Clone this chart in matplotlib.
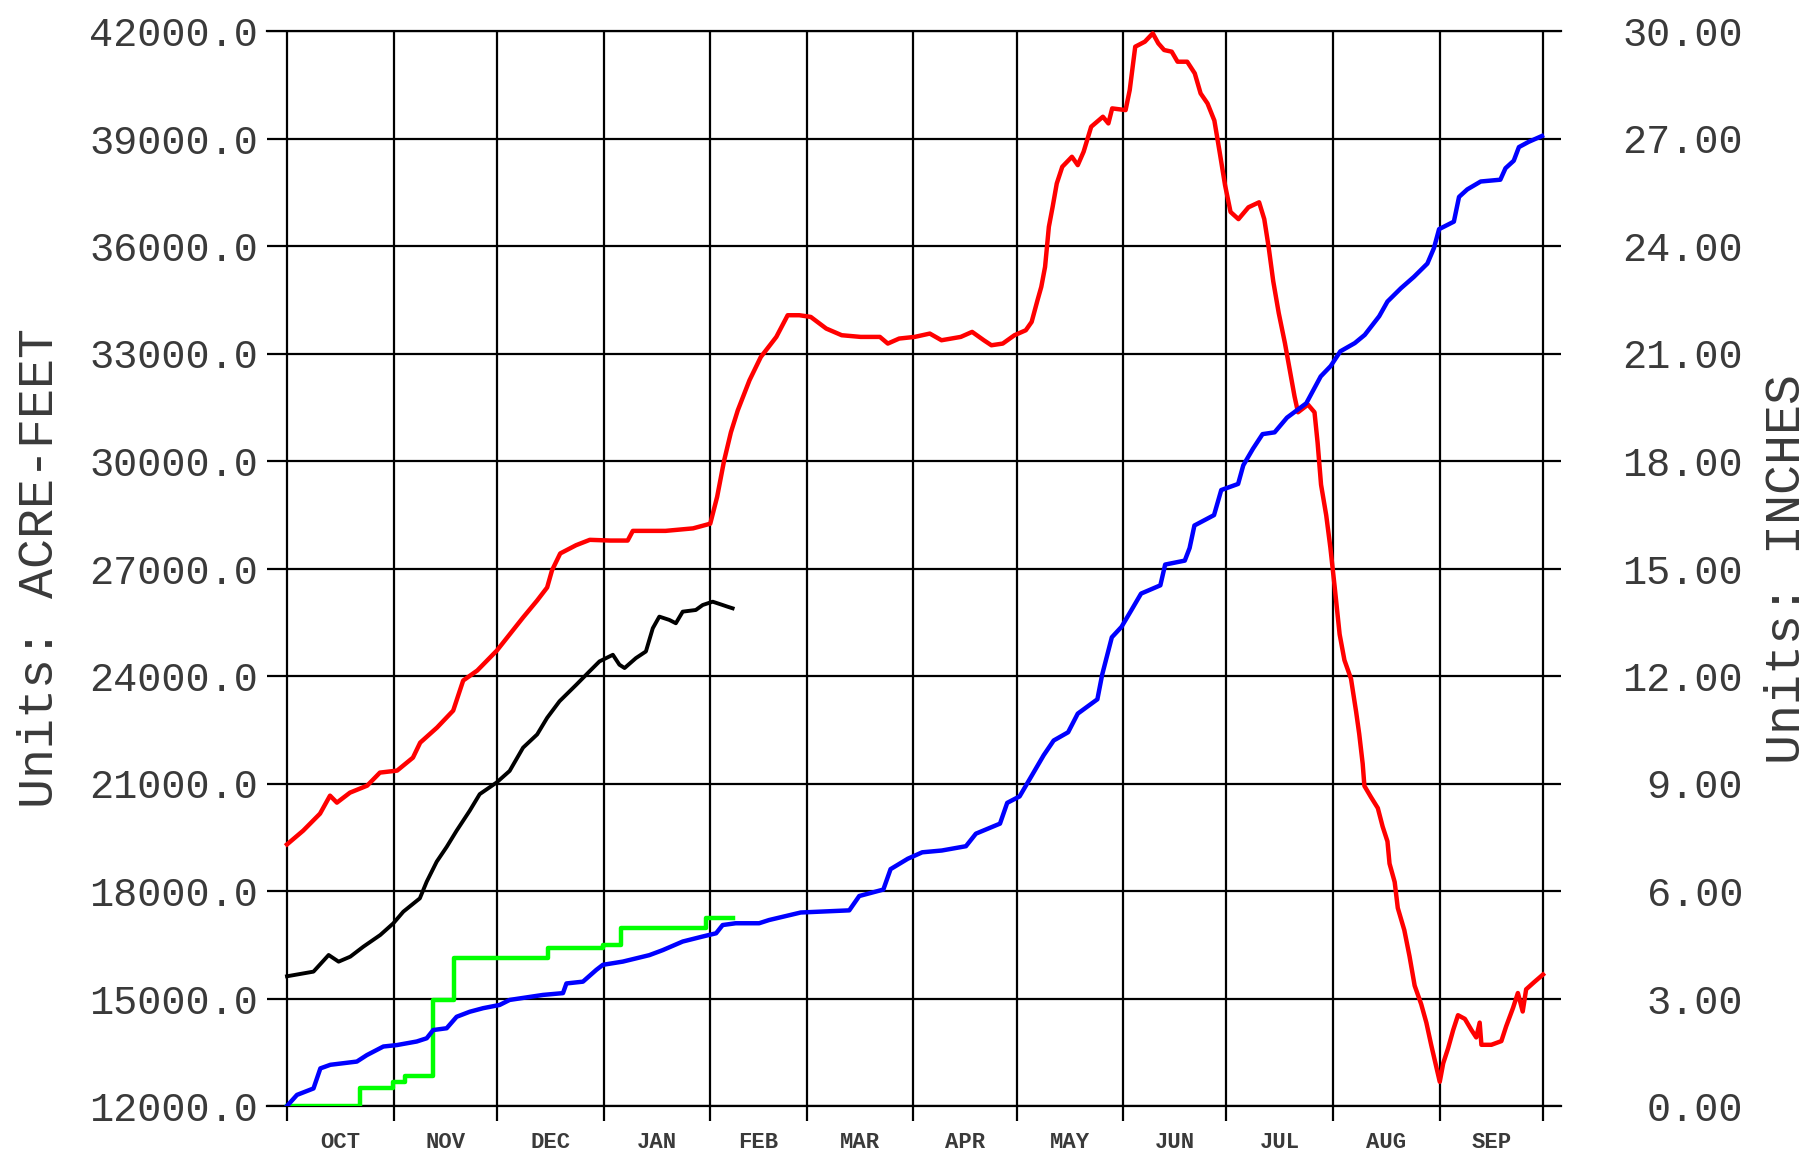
import matplotlib
matplotlib.use("Agg")
import matplotlib.pyplot as plt
import numpy as np

# ---- data (day of water year, starting Oct 1) ----
month_edges = [0, 31, 61, 92, 123, 151, 182, 212, 243, 273, 304, 335, 365]
month_labels = ["OCT", "NOV", "DEC", "JAN", "FEB", "MAR", "APR", "MAY", "JUN", "JUL", "AUG", "SEP"]

left_ticks = [12000, 15000, 18000, 21000, 24000, 27000, 30000, 33000, 36000, 39000, 42000]
right_ticks = [0, 3, 6, 9, 12, 15, 18, 21, 24, 27, 30]

# storage, acre-feet (red: last year, black: current)
red_days = [0, 4.7, 9.6, 12.5, 14.5, 18.3, 23.3, 27, 32, 36.6, 38.7, 43.6, 48.3, 51.2, 55.3, 61,
            64.9, 68.6, 72.7, 75.6, 77, 79.4, 84, 88, 94, 99, 100.5, 110, 118, 123, 125, 127, 129,
            131, 134.4, 137.7, 142.2, 145.5, 148.9, 152.2, 156.7, 161.2, 166.7, 172.3, 174.6,
            177.9, 182.4, 186.8, 190.2, 195.8, 199.1, 202.5, 204.7, 208, 211.4, 214.7, 216.4,
            218.1, 219.2, 220.3, 221.4, 222.5, 223.7, 225.3, 228.1, 229.8, 231.5, 233.7, 237.1,
            238.7, 239.8, 243.7, 244.9, 246.5, 249.3, 251.6, 253.2, 254.9, 257.1, 258.8, 261.6,
            263.8, 265.5, 267.5, 269.5, 271, 272.6, 274.2, 276.5, 279.4, 282.5, 284, 285.3,
            286.6, 288.2, 290, 291.5, 292.8, 293.8, 296.7, 298.6, 299.5, 300.5, 302, 303.2,
            304.4, 305.9, 307.3, 309.2, 310.7, 311.6, 312.6, 313.1, 315, 317, 318.4, 319.8,
            320.4, 321.9, 322.8, 324.7, 326.2, 327.7, 329.6, 331.1, 332.5, 334, 335, 336, 337.4,
            338.9, 340.3, 342.3, 344.2, 345.6, 346.6, 347.1, 350, 352.9, 354.3, 356.3, 357.7,
            359.1, 360.1, 362.5, 365]
red_af = [19300, 19684, 20159, 20661, 20466, 20745, 20940, 21304, 21360, 21722, 22140, 22561,
          23035, 23874, 24153, 24712, 25187, 25633, 26108, 26471, 26946, 27420, 27650, 27800,
          27780, 27780, 28050, 28050, 28120, 28250, 29000, 30000, 30800, 31414, 32253, 32904,
          33463, 34068, 34068, 34021, 33696, 33510, 33463, 33463, 33277, 33417, 33463, 33556,
          33370, 33463, 33603, 33370, 33230, 33277, 33510, 33649, 33882, 34487, 34860, 35418,
          36535, 37094, 37745, 38211, 38490, 38257, 38630, 39328, 39607, 39421, 39840, 39793,
          40352, 41562, 41702, 41935, 41656, 41469, 41423, 41143, 41143, 40818, 40259, 39979,
          39500, 38640, 37700, 36950, 36750, 37080, 37220, 36750, 35950, 35020, 34130, 33290,
          32500, 31800, 31360, 31573, 31360, 30509, 29338, 28487, 27590, 26540, 25163, 24441,
          23925, 22996, 22377, 21551, 20932, 20622, 20313, 19797, 19384, 18765, 18249, 17526,
          16907, 16184, 15359, 14843, 14327, 13708, 13089, 12676, 13192, 13605, 14121, 14534,
          14431, 14121, 13914, 14327, 13708, 13708, 13811, 14224, 14740, 15153, 14637, 15256,
          15462, 15669]

black_days = [0, 7.7, 12.1, 15, 18.4, 22.2, 27.1, 30.9, 33.8, 38.6, 40.6, 43.5, 46.4, 49.3,
              53.1, 56, 60.9, 64.7, 68.6, 72.7, 75.6, 79.2, 84.1, 87.9, 90.8, 94.7, 96.6, 98.1,
              101.4, 104.3, 106.3, 108.2, 111.1, 113, 115, 118.8, 120.8, 123.7, 126.6, 128, 129.5]
black_af = [15620, 15750, 16214, 16028, 16168, 16447, 16772, 17098, 17423, 17795, 18260, 18818,
            19230, 19685, 20240, 20703, 21027, 21351, 22000, 22370, 22833, 23296, 23759, 24129,
            24407, 24592, 24315, 24222, 24500, 24685, 25333, 25657, 25565, 25472, 25796, 25842,
            25981, 26074, 25981, 25935, 25889]

# cumulative precipitation, inches (blue: last year, green: current)
blue_days = [0, 2.9, 7.7, 9.7, 12.6, 20.3, 23.2, 28, 31.9, 37.7, 40.6, 42.5, 46.4, 49.3, 53.1,
             57, 61.8, 64.7, 74.4, 80.2, 81.2, 86, 89.9, 91.8, 97.6, 105.3, 109.2, 115, 120.8,
             124.7, 126.6, 130.4, 137.2, 140.1, 149.3, 163.4, 166.3, 173.3, 175.4, 180.4, 184.6,
             190.3, 197.3, 200.2, 207.2, 209.3, 212.9, 215.7, 219.9, 222.8, 227, 229.8, 235.5,
             236.9, 239.7, 242.5, 245.4, 248.2, 253.8, 255.2, 260.9, 262.3, 263.7, 269.4, 271.5,
             276.4, 277.9, 280.7, 283.5, 287, 290.6, 296.2, 300.4, 303.3, 306.1, 310.3, 313.2,
             317.4, 319.8, 323.7, 327.5, 331.4, 333.3, 334.8, 339.1, 340.6, 343, 346.9, 352.6,
             354.1, 356.5, 358, 360.9, 364.7]
blue_in = [0.0, 0.31, 0.49, 1.05, 1.15, 1.24, 1.42, 1.66, 1.70, 1.80, 1.89, 2.12, 2.17, 2.49,
           2.63, 2.73, 2.82, 2.96, 3.10, 3.15, 3.42, 3.47, 3.80, 3.94, 4.03, 4.21, 4.35, 4.59,
           4.73, 4.82, 5.05, 5.10, 5.10, 5.19, 5.40, 5.46, 5.86, 6.04, 6.61, 6.90, 7.08, 7.13,
           7.25, 7.60, 7.88, 8.46, 8.64, 9.10, 9.79, 10.20, 10.43, 10.95, 11.35, 12.04, 13.08,
           13.37, 13.84, 14.30, 14.53, 15.11, 15.22, 15.57, 16.20, 16.49, 17.19, 17.36, 17.88,
           18.34, 18.75, 18.80, 19.21, 19.61, 20.36, 20.65, 21.06, 21.29, 21.52, 22.04, 22.45,
           22.82, 23.14, 23.51, 23.94, 24.47, 24.68, 25.37, 25.58, 25.80, 25.85, 26.17, 26.38,
           26.76, 26.91, 27.07]

green_days = [0, 21.3, 30.9, 34.3, 42.5, 48.5, 75.8, 91.8, 97.1, 121.7, 129.5]
green_in = [0.0, 0.49, 0.68, 0.84, 2.95, 4.12, 4.42, 4.49, 4.96, 5.24, 5.24]

# ---- figure ----
W, H = 1817, 1160
fig = plt.figure(figsize=(W / 100, H / 100), dpi=100)
x_left, x_right, y_top, y_bot = 267, 1561, 31, 1106
ax = fig.add_axes([x_left / W, (H - y_bot) / H, (x_right - x_left) / W, (y_bot - y_top) / H])

px_per_day = (1543 - 287) / 365.0
ax.set_xlim(-(287 - x_left) / px_per_day, 365 + (x_right - 1543) / px_per_day)
ax.set_ylim(12000, 42000)

FONT = "Liberation Mono"
GRID_LW = 1.6
tick_col = "#3a3a3a"

# spines / grid
for s in ["left", "right"]:
    ax.spines[s].set_visible(False)
for s in ["top", "bottom"]:
    ax.spines[s].set_linewidth(GRID_LW)
    ax.spines[s].set_color("black")
ax.set_yticks(left_ticks)
ax.set_yticklabels([f"{v:.1f}" for v in left_ticks], fontsize=29, family=FONT, color=tick_col)
ax.yaxis.grid(True, color="black", lw=GRID_LW)
ax.tick_params(axis="y", length=0, pad=6.5)

ext = 15 / (y_bot - y_top)
ax.vlines(month_edges, -ext, 1, transform=ax.get_xaxis_transform(), colors="black",
          lw=GRID_LW, clip_on=False, zorder=1)

mids = [(month_edges[i] + month_edges[i + 1]) / 2 for i in range(12)]
ax.set_xticks(mids)
ax.set_xticklabels(month_labels, fontsize=16, family=FONT, fontweight="bold", color=tick_col)
ax.tick_params(axis="x", length=0, pad=19)

ax.plot(black_days, black_af, color="black", lw=2.8, zorder=3)
ax.plot(red_days, red_af, color="#ff0000", lw=3.2, zorder=3)

ax.set_ylabel("Units: ACRE-FEET", fontsize=36, family=FONT, color=tick_col)
ax.yaxis.set_label_coords((40 - x_left) / (x_right - x_left), 0.5)
ax.yaxis.label.set_va("center")

ax2 = ax.twinx()
ax2.set_ylim(0, 30)
for s in ax2.spines.values():
    s.set_visible(False)
ax2.set_yticks(right_ticks)
ax2.set_yticklabels([f"{v:.2f}" for v in right_ticks], fontsize=29, family=FONT, color=tick_col)
for t in ax2.get_yticklabels():
    t.set_ha("right")
ax2.tick_params(axis="y", length=0, pad=(1743 - x_right) * 0.72)

ax2.plot(green_days, green_in, color="#00ff00", lw=3.2, drawstyle="steps-post", zorder=3)
ax2.plot(blue_days, blue_in, color="#0000ff", lw=3.2, zorder=4)

ax2.set_ylabel("Units: INCHES", fontsize=36, family=FONT, color=tick_col, rotation=90)
ax2.yaxis.set_label_coords((1787 - x_left) / (x_right - x_left), 0.5)
ax2.yaxis.label.set_va("center")

fig.savefig("out.png", dpi=100, facecolor="white")
